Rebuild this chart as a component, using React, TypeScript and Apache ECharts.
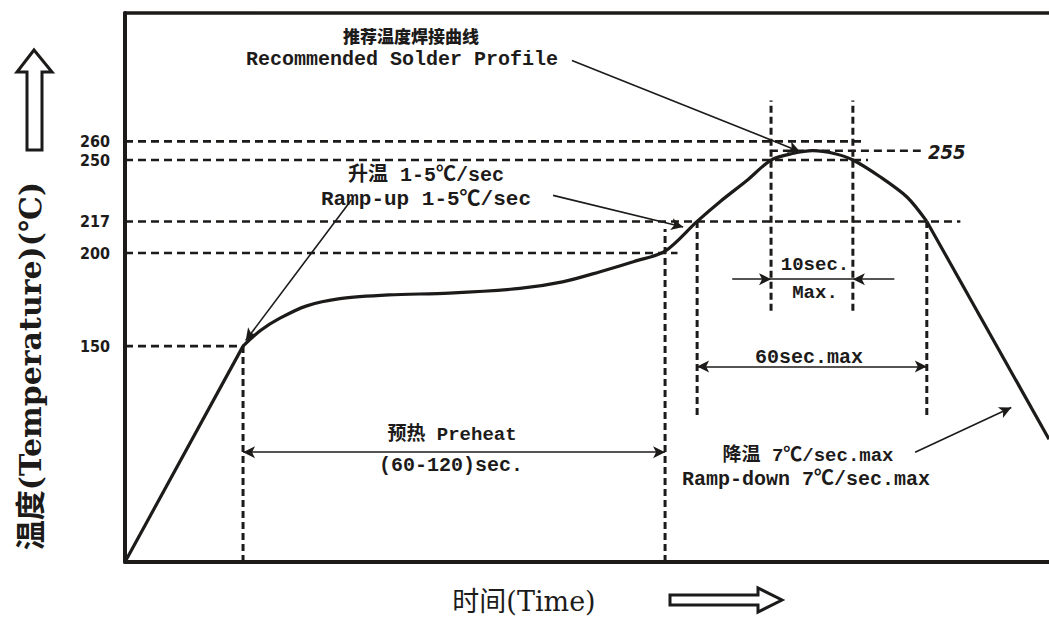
import React, { useEffect, useRef } from "react";
import * as echarts from "echarts";

// ---- data (time in s, temperature in °C) ----
const X_MIN = 0;
const X_MAX = 245;
const Y_MIN = 34;
const Y_MAX = 329;

const yTickValues = [150, 200, 217, 250, 260];

const profileTime = [0, 31.3, 36, 41.1, 48, 57, 70, 86, 104.7, 116, 126, 135, 143.2, 151.7, 158, 164.9, 171.3, 177, 182.4, 188, 193, 200.2, 207.4, 212.6, 245];
const profileTemp = [34, 150, 158.5, 165, 171.5, 175.5, 177.5, 178.5, 181, 184.5, 190, 195.5, 201, 217, 228, 239, 250, 253.5, 255, 253.5, 250, 241, 230, 217, 100];

// horizontal reference lines
const refTemps = [260, 255, 250, 217, 200, 150];
const refFrom = [0, 171, 0, 0, 0, 0];
const refTo = [196, 211, 197, 221.5, 146.5, 31.3];

// vertical reference lines
const markTimes = [31.3, 143.2, 151.7, 171.3, 193, 212.6];
const markLow = [34, 34, 113, 169, 169, 113];
const markHigh = [150, 213, 217, 282, 282, 217];

// annotation arrows [x1, y1, x2, y2, startSymbol, endSymbol]
const arrowLines: [number, number, number, number, string, string][] = [
  [118.5, 303.5, 179, 254.5, "none", "arrow"],
  [113.5, 231, 148, 214, "none", "arrow"],
  [60, 228.5, 32, 153, "none", "arrow"],
  [209.5, 93, 235, 117, "none", "arrow"],
  [31.3, 93, 143.2, 93, "arrow", "arrow"],
  [151.7, 139, 212.6, 139, "arrow", "arrow"],
  [161, 186, 171.3, 186, "none", "arrow"],
  [204, 186, 193, 186, "none", "arrow"],
  [171.3, 186, 193, 186, "none", "none"],
];

const INK = "#1d1b1a";
const MONO = "'Liberation Mono', 'DejaVu Sans Mono', 'Noto Sans CJK SC', monospace";

function txt(text: string, x: number, y: number, size: number, opts: any = {}) {
  return {
    type: "text",
    x,
    y,
    rotation: opts.rotation || 0,
    z: 100,
    style: {
      text,
      fill: INK,
      fontSize: size,
      fontFamily: opts.family || MONO,
      fontWeight: opts.weight || "bold",
      fontStyle: opts.style || "normal",
      align: opts.align || "center",
      textAlign: opts.align || "center",
      verticalAlign: "middle",
      textVerticalAlign: "middle",
    },
  };
}

export default function App() {
  const ref = useRef<HTMLDivElement>(null);
  useEffect(() => {
    if (!ref.current) return;
    const chart = echarts.init(ref.current, null, { renderer: "svg" });
    const profile = profileTime.map((t, i) => [t, profileTemp[i]]);
    const curveStyle = { color: INK, width: 3.2 };
    const dashStyle = { color: INK, width: 2.6, type: [8, 5] as any };

    const series: any[] = [];
    series.push({
      type: "line",
      data: profile.slice(0, 2),
      showSymbol: false,
      lineStyle: curveStyle,
      z: 5,
      silent: true,
    });
    series.push({
      type: "line",
      data: profile.slice(1, profile.length - 1),
      smooth: 0.3,
      showSymbol: false,
      lineStyle: curveStyle,
      z: 5,
      silent: true,
    });
    series.push({
      type: "line",
      data: profile.slice(profile.length - 2),
      showSymbol: false,
      lineStyle: curveStyle,
      z: 5,
      silent: true,
      markLine: {
        silent: true,
        animation: false,
        symbolSize: [9, 12],
        lineStyle: { color: INK, width: 1.6, type: "solid" },
        label: { show: false },
        data: arrowLines.map((a) => [
          { coord: [a[0], a[1]], symbol: a[4] },
          { coord: [a[2], a[3]], symbol: a[5] },
        ]),
      },
    });
    refTemps.forEach((v, i) => {
      series.push({
        type: "line",
        data: [
          [refFrom[i], v],
          [refTo[i], v],
        ],
        showSymbol: false,
        lineStyle: dashStyle,
        silent: true,
        z: 3,
      });
    });
    markTimes.forEach((t, i) => {
      series.push({
        type: "line",
        data: [
          [t, markLow[i]],
          [t, markHigh[i]],
        ],
        showSymbol: false,
        lineStyle: { color: INK, width: 3, type: [7, 4] },
        silent: true,
        z: 3,
      });
    });

    chart.setOption({
      animation: false,
      backgroundColor: "#ffffff",
      grid: { left: 125, right: 0, top: 13, bottom: 57 },
      xAxis: [
        {
          type: "value",
          min: X_MIN,
          max: X_MAX,
          position: "bottom",
          axisLine: { show: true, lineStyle: { color: INK, width: 4 } },
          axisTick: { show: false },
          axisLabel: { show: false },
          splitLine: { show: false },
        },
        {
          type: "value",
          min: X_MIN,
          max: X_MAX,
          position: "top",
          axisLine: { show: true, lineStyle: { color: INK, width: 3.5 } },
          axisTick: { show: false },
          axisLabel: { show: false },
          splitLine: { show: false },
        },
      ],
      yAxis: {
        type: "value",
        min: Y_MIN,
        max: Y_MAX,
        axisLine: { show: true, lineStyle: { color: INK, width: 4 } },
        axisTick: { show: false },
        splitLine: { show: false },
        axisLabel: {
          show: true,
          customValues: yTickValues,
          margin: 15,
          color: INK,
          fontSize: 16,
          lineHeight: 16,
          fontWeight: "bold",
          fontFamily: "'DejaVu Sans Condensed', 'DejaVu Sans', sans-serif",
        },
      },
      series,
      graphic: [
        txt("推荐温度焊接曲线", 411, 35, 17, { family: "'Noto Sans CJK SC', sans-serif", weight: "900" }),
        txt("Recommended Solder Profile", 402, 59, 20),
        txt("升温 1-5℃/sec", 426, 175, 20),
        txt("Ramp-up 1-5℃/sec", 426, 199, 21),
        txt("10sec.", 815, 265, 19),
        txt("Max.", 815, 293, 19),
        txt("60sec.max", 809, 357, 20),
        txt("预热 Preheat", 452, 435, 19),
        txt("(60-120)sec.", 451, 465, 20),
        txt("降温 7℃/sec.max", 808, 456, 19),
        txt("Ramp-down 7℃/sec.max", 806, 479, 20),
        txt("255", 928, 152, 20, { align: "left", family: "'DejaVu Sans Condensed', 'DejaVu Sans', sans-serif", style: "italic" }),
        txt("温度(Temperature)(℃)", 30, 366, 30, {
          rotation: Math.PI / 2,
          family: "'DejaVu Serif', 'Noto Sans CJK SC', serif",
          weight: "bold",
        }),
        txt("时间(Time)", 524, 601, 27, { family: "'DejaVu Serif', 'Noto Sans CJK SC', serif", weight: "normal" }),
        {
          type: "polygon",
          z: 100,
          shape: {
            points: [
              [34, 50],
              [52, 72],
              [42, 72],
              [42, 150],
              [27, 150],
              [27, 72],
              [17, 72],
            ],
          },
          style: { fill: "#ffffff", stroke: INK, lineWidth: 3 },
        },
        {
          type: "polygon",
          z: 100,
          shape: {
            points: [
              [670, 595],
              [758, 595],
              [758, 588],
              [782, 600],
              [758, 612],
              [758, 605],
              [670, 605],
            ],
          },
          style: { fill: "#ffffff", stroke: INK, lineWidth: 3 },
        },
      ],
    });
    return () => chart.dispose();
  }, []);
  return (
    <div
      ref={ref}
      style={{ position: "fixed", left: 0, top: 0, width: 1049, height: 619, background: "#fff" }}
    />
  );
}
